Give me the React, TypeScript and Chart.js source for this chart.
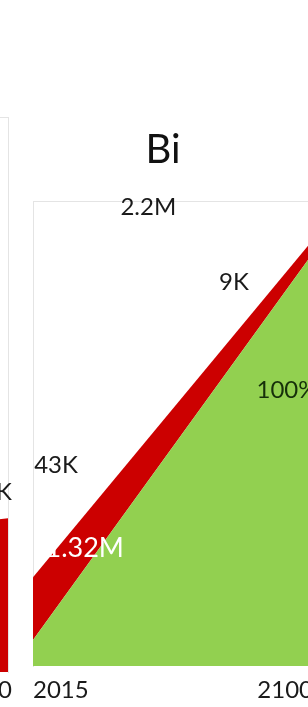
import React, { useEffect, useRef } from "react";
import { Chart, registerables } from "chart.js";

Chart.register(...registerables);

// ---- data (main panel "Bi") ----
const years = [2015, 2100];
const greenValues = [5.6, 88.8];
const redValues = [13.5, 2.85];
const tickYears = [2015, 2100];

// ---- data (previous panel, only its right edge is visible) ----
const prevYears = [2015, 2100];
const prevRedValues = [22, 27.7];

const GREEN = "#92D050";
const RED = "#CC0000";
const FRAME = "#e4e4e4";
const FONT = "Lato, 'Open Sans', sans-serif";

// text annotations (placed in data units of each panel)
const mainTexts = [
  { text: "Bi", x: 2054.5, y: 108.2, size: 40, color: "#111111", align: "center" },
  { text: "2.2M", x: 2050, y: 97.0, size: 24, color: "#1a1a1a", align: "center" },
  { text: "9K", x: 2076, y: 80.9, size: 24, color: "#1a1a1a", align: "center" },
  { text: "100%", x: 2092.1, y: 57.6, size: 24, color: "#16300a", align: "center" },
  { text: "43K", x: 2022, y: 41.5, size: 24, color: "#1a1a1a", align: "center" },
  { text: "1.32M", x: 2042.6, y: 23.4, size: 27, color: "#ffffff", align: "right" },
];
const prevTexts = [
  { text: "17K", x: 2101.2, y: 31.0, size: 24, color: "#1a1a1a", align: "right" },
];

const textPlugin = {
  id: "texts",
  afterDatasetsDraw(chart: any, _args: any, opts: any) {
    const { ctx } = chart;
    const xs = chart.scales.x;
    const ys = chart.scales.y;
    ctx.save();
    for (const l of opts.items || []) {
      ctx.font = `${l.size}px ${FONT}`;
      ctx.fillStyle = l.color;
      ctx.textAlign = l.align;
      ctx.textBaseline = "alphabetic";
      ctx.fillText(l.text, xs.getPixelForValue(l.x), ys.getPixelForValue(l.y));
    }
    ctx.restore();
  },
};

function buildOptions(p: {
  padding: any;
  yPos: "left" | "right";
  tickPad: number;
  labelOffset: number;
  axisHeight: number;
  texts: any[];
}) {
  return {
    responsive: false,
    animation: false as const,
    events: [],
    layout: { padding: p.padding },
    plugins: {
      legend: { display: false },
      tooltip: { enabled: false },
      title: { display: false },
      texts: { items: p.texts },
    },
    elements: { point: { radius: 0 }, line: { tension: 0, borderWidth: 0 } },
    scales: {
      x: {
        type: "linear" as const,
        min: tickYears[0],
        max: tickYears[tickYears.length - 1],
        afterBuildTicks: (axis: any) => {
          axis.ticks = tickYears.map((v) => ({ value: v }));
        },
        afterFit: (axis: any) => {
          axis.height = p.axisHeight;
        },
        grid: { display: false, drawTicks: false },
        border: { display: false },
        ticks: {
          autoSkip: false,
          maxRotation: 0,
          align: "inner" as const,
          padding: p.tickPad,
          labelOffset: p.labelOffset,
          color: "#1a1a1a",
          font: { family: FONT, size: 24 },
          callback: (v: any) => String(v),
        },
      },
      y: {
        position: p.yPos,
        stacked: true,
        min: 0,
        max: 100,
        ticks: { display: false, stepSize: 50 },
        grid: {
          drawTicks: false,
          color: (c: any) => (c.tick && c.tick.value === 100 ? FRAME : "rgba(0,0,0,0)"),
        },
        border: { display: true, color: FRAME, width: 1 },
      },
    },
  };
}

export default function App() {
  const mainRef = useRef<HTMLCanvasElement>(null);
  const prevRef = useRef<HTMLCanvasElement>(null);

  useEffect(() => {
    const main = new Chart(mainRef.current as HTMLCanvasElement, {
      type: "line",
      data: {
        datasets: [
          {
            label: "green",
            data: years.map((yr, i) => ({ x: yr, y: greenValues[i] })),
            backgroundColor: GREEN,
            borderColor: GREEN,
            borderWidth: 0,
            fill: "origin",
            pointRadius: 0,
          },
          {
            label: "red",
            data: years.map((yr, i) => ({ x: yr, y: redValues[i] })),
            backgroundColor: RED,
            borderColor: RED,
            borderWidth: 0,
            fill: "-1",
            pointRadius: 0,
          },
        ],
      },
      options: buildOptions({
        padding: { left: 33, right: 27, top: 201, bottom: 2 },
        yPos: "left",
        tickPad: 10,
        labelOffset: 0,
        axisHeight: 39,
        texts: mainTexts,
      }) as any,
      plugins: [textPlugin],
    });

    const prev = new Chart(prevRef.current as HTMLCanvasElement, {
      type: "line",
      data: {
        datasets: [
          {
            label: "red",
            data: prevYears.map((yr, i) => ({ x: yr, y: prevRedValues[i] })),
            backgroundColor: RED,
            borderColor: RED,
            borderWidth: 0,
            fill: "origin",
            pointRadius: 0,
          },
        ],
      },
      options: buildOptions({
        padding: { left: 20, right: 4, top: 117, bottom: 2 },
        yPos: "right",
        tickPad: 4,
        labelOffset: 4,
        axisHeight: 33,
        texts: prevTexts,
      }) as any,
      plugins: [textPlugin],
    });

    return () => {
      main.destroy();
      prev.destroy();
    };
  }, []);

  return (
    <div
      style={{
        position: "fixed",
        left: 0,
        top: 0,
        width: 308,
        height: 707,
        overflow: "hidden",
        background: "#ffffff",
      }}
    >
      <canvas
        ref={prevRef}
        width={300}
        height={707}
        style={{ position: "absolute", left: -288, top: 0 }}
      />
      <canvas
        ref={mainRef}
        width={340}
        height={707}
        style={{ position: "absolute", left: 0, top: 0 }}
      />
    </div>
  );
}
